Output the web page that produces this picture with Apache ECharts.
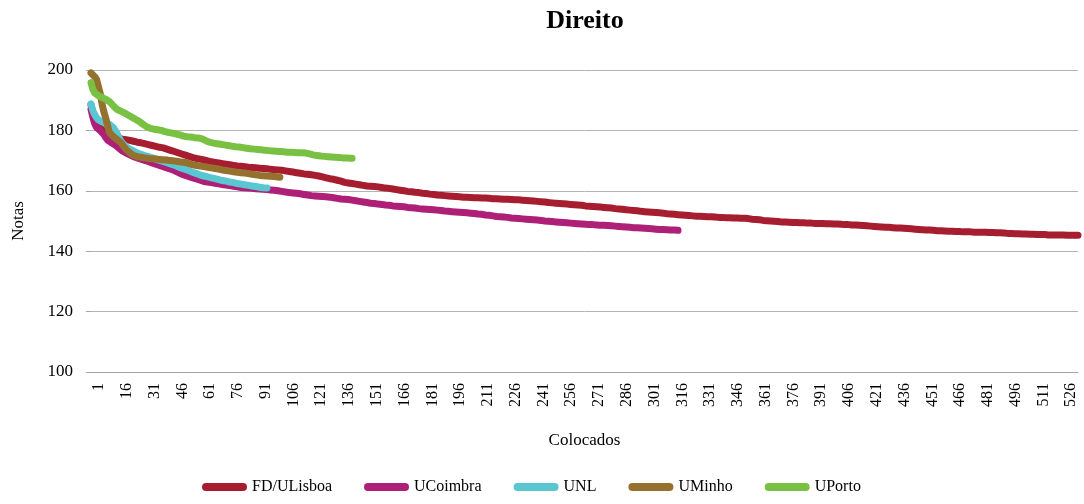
<!DOCTYPE html>
<html>
<head>
<meta charset="utf-8">
<title>Direito</title>
<script src="https://cdn.jsdelivr.net/npm/echarts@6/dist/echarts.min.js"></script>
<style>
    html, body { margin: 0; padding: 0; background: #fff; }
    #chart { width: 1084px; height: 504px; }
</style>
</head>
<body>
<div id="chart"></div>
<script>
const seriesNames = ['FD/ULisboa', 'UCoimbra', 'UNL', 'UMinho', 'UPorto'];
const colors = ['#a61d30', '#ae1f78', '#5ac6d1', '#957130', '#79c143'];

// notas dos colocados, por ordem
const fdULisboa = [
    188.5, 185.5, 183.6, 182.4, 181.6, 180.8, 180.2, 179.7, 179.3, 179.0,
    178.7, 178.4, 178.1, 177.8, 177.6, 177.4, 177.3, 177.1, 177.0, 176.9,
    176.8, 176.7, 176.6, 176.4, 176.3, 176.1, 176.0, 175.9, 175.7, 175.6,
    175.4, 175.3, 175.1, 175.0, 174.8, 174.7, 174.5, 174.4, 174.3, 174.2,
    174.0, 173.8, 173.6, 173.4, 173.2, 173.0, 172.8, 172.6, 172.4, 172.2,
    172.0, 171.8, 171.6, 171.4, 171.2, 171.0, 170.9, 170.7, 170.6, 170.5,
    170.3, 170.2, 170.0, 169.9, 169.8, 169.6, 169.5, 169.4, 169.3, 169.2,
    169.1, 169.0, 168.9, 168.8, 168.7, 168.6, 168.5, 168.4, 168.3, 168.2,
    168.1, 168.1, 168.0, 168.0, 167.9, 167.8, 167.8, 167.7, 167.7, 167.6,
    167.5, 167.5, 167.4, 167.4, 167.3, 167.3, 167.2, 167.1, 167.1, 167.0,
    167.0, 166.9, 166.9, 166.8, 166.7, 166.6, 166.5, 166.4, 166.3, 166.2,
    166.1, 166.0, 165.9, 165.8, 165.7, 165.6, 165.6, 165.5, 165.4, 165.3,
    165.2, 165.1, 165.0, 164.9, 164.7, 164.6, 164.4, 164.3, 164.1, 164.0,
    163.9, 163.8, 163.6, 163.5, 163.3, 163.2, 163.0, 162.8, 162.7, 162.6,
    162.5, 162.4, 162.3, 162.2, 162.1, 162.0, 161.9, 161.8, 161.7, 161.6,
    161.6, 161.5, 161.5, 161.4, 161.3, 161.3, 161.2, 161.1, 161.0, 160.9,
    160.9, 160.8, 160.7, 160.6, 160.5, 160.4, 160.3, 160.2, 160.1, 160.0,
    159.9, 159.8, 159.8, 159.7, 159.6, 159.5, 159.5, 159.4, 159.3, 159.2,
    159.2, 159.1, 159.0, 158.9, 158.9, 158.8, 158.7, 158.6, 158.6, 158.5,
    158.5, 158.4, 158.4, 158.3, 158.3, 158.2, 158.2, 158.1, 158.1, 158.0,
    158.0, 157.9, 157.9, 157.9, 157.8, 157.8, 157.8, 157.7, 157.7, 157.7,
    157.6, 157.6, 157.6, 157.6, 157.5, 157.5, 157.5, 157.4, 157.4, 157.4,
    157.3, 157.3, 157.3, 157.2, 157.2, 157.2, 157.1, 157.1, 157.1, 157.0,
    157.0, 157.0, 156.9, 156.9, 156.8, 156.8, 156.7, 156.7, 156.6, 156.6,
    156.5, 156.5, 156.4, 156.4, 156.3, 156.3, 156.2, 156.1, 156.1, 156.0,
    156.0, 155.9, 155.9, 155.8, 155.8, 155.7, 155.7, 155.6, 155.5, 155.5,
    155.4, 155.4, 155.3, 155.3, 155.2, 155.2, 155.1, 155.0, 155.0, 154.9,
    154.9, 154.8, 154.8, 154.7, 154.6, 154.6, 154.5, 154.5, 154.4, 154.4,
    154.3, 154.3, 154.2, 154.1, 154.1, 154.0, 153.9, 153.9, 153.8, 153.7,
    153.7, 153.6, 153.5, 153.5, 153.4, 153.4, 153.3, 153.2, 153.2, 153.1,
    153.1, 153.0, 153.0, 152.9, 152.8, 152.8, 152.7, 152.7, 152.6, 152.6,
    152.5, 152.4, 152.4, 152.3, 152.3, 152.2, 152.1, 152.1, 152.0, 152.0,
    151.9, 151.9, 151.8, 151.8, 151.7, 151.7, 151.7, 151.6, 151.6, 151.6,
    151.5, 151.5, 151.5, 151.4, 151.4, 151.4, 151.3, 151.3, 151.3, 151.2,
    151.2, 151.2, 151.2, 151.1, 151.1, 151.1, 151.1, 151.0, 151.0, 151.0,
    151.0, 150.9, 150.9, 150.9, 150.8, 150.8, 150.7, 150.6, 150.6, 150.5,
    150.4, 150.4, 150.3, 150.2, 150.2, 150.1, 150.0, 150.0, 149.9, 149.9,
    149.8, 149.8, 149.8, 149.7, 149.7, 149.7, 149.6, 149.6, 149.6, 149.5,
    149.5, 149.5, 149.5, 149.4, 149.4, 149.4, 149.4, 149.3, 149.3, 149.3,
    149.3, 149.2, 149.2, 149.2, 149.2, 149.2, 149.1, 149.1, 149.1, 149.1,
    149.1, 149.0, 149.0, 149.0, 148.9, 148.9, 148.9, 148.8, 148.8, 148.8,
    148.7, 148.7, 148.7, 148.7, 148.6, 148.6, 148.6, 148.5, 148.5, 148.4,
    148.4, 148.3, 148.3, 148.2, 148.2, 148.1, 148.1, 148.0, 148.0, 147.9,
    147.9, 147.9, 147.8, 147.8, 147.8, 147.7, 147.7, 147.7, 147.6, 147.6,
    147.5, 147.5, 147.4, 147.4, 147.3, 147.3, 147.2, 147.2, 147.1, 147.1,
    147.1, 147.0, 147.0, 147.0, 146.9, 146.9, 146.9, 146.8, 146.8, 146.8,
    146.7, 146.7, 146.7, 146.6, 146.6, 146.6, 146.6, 146.5, 146.5, 146.5,
    146.5, 146.4, 146.4, 146.4, 146.4, 146.4, 146.4, 146.3, 146.3, 146.3,
    146.3, 146.3, 146.3, 146.3, 146.3, 146.2, 146.2, 146.2, 146.2, 146.1,
    146.1, 146.1, 146.0, 146.0, 146.0, 145.9, 145.9, 145.9, 145.8, 145.8,
    145.8, 145.8, 145.7, 145.7, 145.7, 145.7, 145.6, 145.6, 145.6, 145.6,
    145.6, 145.5, 145.5, 145.5, 145.5, 145.5, 145.5, 145.4, 145.4, 145.4,
    145.4, 145.4, 145.4, 145.4, 145.4, 145.4, 145.3, 145.3, 145.3, 145.3,
    145.3, 145.3, 145.3, 145.3
];

const uCoimbra = [
    187.0, 184.4, 182.2, 181.0, 180.4, 179.9, 179.5, 178.6, 177.6, 176.8,
    176.3, 175.9, 175.5, 175.2, 174.7, 174.2, 173.7, 173.2, 172.8, 172.5,
    172.2, 171.9, 171.6, 171.3, 171.1, 170.9, 170.7, 170.5, 170.3, 170.1,
    169.9, 169.7, 169.5, 169.2, 169.0, 168.8, 168.6, 168.4, 168.2, 168.0,
    167.8, 167.6, 167.5, 167.2, 167.0, 166.7, 166.4, 166.1, 165.8, 165.5,
    165.3, 165.1, 164.9, 164.7, 164.5, 164.3, 164.1, 163.9, 163.7, 163.5,
    163.3, 163.1, 163.0, 162.9, 162.8, 162.7, 162.6, 162.5, 162.4, 162.3,
    162.2, 162.1, 162.0, 161.9, 161.8, 161.7, 161.6, 161.5, 161.4, 161.3,
    161.2, 161.1, 161.0, 161.0, 160.9, 160.9, 160.8, 160.8, 160.7, 160.7,
    160.6, 160.6, 160.5, 160.5, 160.4, 160.4, 160.3, 160.3, 160.3, 160.2,
    160.1, 160.0, 159.9, 159.8, 159.7, 159.6, 159.5, 159.4, 159.4, 159.3,
    159.3, 159.2, 159.1, 159.0, 158.9, 158.8, 158.7, 158.6, 158.5, 158.4,
    158.3, 158.3, 158.2, 158.2, 158.1, 158.1, 158.0, 158.0, 157.9, 157.9,
    157.8, 157.7, 157.6, 157.5, 157.4, 157.3, 157.3, 157.2, 157.2, 157.1,
    157.0, 156.9, 156.8, 156.7, 156.6, 156.5, 156.4, 156.3, 156.2, 156.1,
    156.0, 155.9, 155.9, 155.8, 155.7, 155.6, 155.5, 155.5, 155.4, 155.3,
    155.2, 155.2, 155.1, 155.0, 155.0, 154.9, 154.9, 154.8, 154.7, 154.7,
    154.6, 154.5, 154.5, 154.4, 154.3, 154.3, 154.2, 154.1, 154.1, 154.0,
    154.0, 153.9, 153.8, 153.8, 153.7, 153.7, 153.6, 153.6, 153.5, 153.5,
    153.4, 153.3, 153.3, 153.2, 153.1, 153.1, 153.0, 153.0, 152.9, 152.9,
    152.8, 152.8, 152.7, 152.7, 152.6, 152.6, 152.5, 152.5, 152.4, 152.3,
    152.2, 152.2, 152.1, 152.0, 151.9, 151.9, 151.8, 151.7, 151.6, 151.5,
    151.5, 151.4, 151.3, 151.3, 151.2, 151.2, 151.1, 151.0, 151.0, 150.9,
    150.9, 150.8, 150.8, 150.7, 150.7, 150.6, 150.6, 150.5, 150.5, 150.4,
    150.4, 150.3, 150.3, 150.2, 150.1, 150.0, 150.0, 149.9, 149.8, 149.8,
    149.7, 149.7, 149.6, 149.6, 149.5, 149.5, 149.4, 149.4, 149.3, 149.3,
    149.3, 149.2, 149.2, 149.1, 149.1, 149.0, 149.0, 148.9, 148.9, 148.8,
    148.8, 148.8, 148.7, 148.7, 148.7, 148.6, 148.6, 148.6, 148.5, 148.5,
    148.4, 148.4, 148.3, 148.3, 148.2, 148.2, 148.1, 148.1, 148.0, 148.0,
    147.9, 147.9, 147.9, 147.8, 147.8, 147.8, 147.7, 147.7, 147.7, 147.6,
    147.6, 147.5, 147.5, 147.4, 147.4, 147.3, 147.3, 147.2, 147.2, 147.2,
    147.1, 147.1, 147.1, 147.0, 147.0, 147.0, 146.9, 146.9
];

const unl = [
    188.8, 186.5, 185.2, 184.2, 183.5, 183.1, 182.8, 182.6, 182.4, 182.2,
    182.0, 181.8, 181.0, 180.0, 179.0, 177.8, 176.6, 175.7, 175.1, 174.6,
    174.2, 173.8, 173.5, 173.2, 172.8, 172.5, 172.3, 172.1, 171.9, 171.7,
    171.5, 171.3, 171.1, 170.9, 170.7, 170.5, 170.3, 170.1, 169.9, 169.7,
    169.5, 169.3, 169.1, 168.9, 168.7, 168.5, 168.3, 168.0, 167.8, 167.5,
    167.3, 167.1, 166.8, 166.6, 166.3, 166.1, 165.9, 165.7, 165.4, 165.2,
    165.0, 164.9, 164.7, 164.6, 164.4, 164.3, 164.1, 164.0, 163.8, 163.7,
    163.6, 163.4, 163.3, 163.2, 163.0, 162.9, 162.8, 162.7, 162.6, 162.4,
    162.3, 162.2, 162.1, 162.0, 161.9, 161.8, 161.7, 161.6, 161.5, 161.4,
    161.3, 161.2, 161.1, 161.0, 161.0, 160.9
];

const uMinho = [
    199.0, 198.6, 197.8, 196.9, 194.5, 192.2, 188.6, 186.0, 184.0, 181.5,
    179.2, 178.6, 178.0, 177.5, 177.0, 176.6, 176.0, 175.2, 174.4, 173.7,
    173.1, 172.5, 172.0, 171.7, 171.5, 171.3, 171.2, 171.1, 171.0, 170.9,
    170.8, 170.7, 170.7, 170.6, 170.5, 170.5, 170.4, 170.4, 170.3, 170.3,
    170.2, 170.2, 170.1, 170.0, 169.9, 169.9, 169.8, 169.7, 169.6, 169.5,
    169.5, 169.4, 169.2, 169.0, 168.8, 168.6, 168.5, 168.4, 168.3, 168.2,
    168.1, 168.0, 167.9, 167.8, 167.7, 167.6, 167.5, 167.4, 167.3, 167.2,
    167.0, 166.9, 166.8, 166.7, 166.6, 166.5, 166.4, 166.3, 166.2, 166.1,
    166.0, 166.0, 165.9, 165.9, 165.8, 165.7, 165.6, 165.5, 165.4, 165.3,
    165.2, 165.1, 165.0, 165.0, 164.9, 164.9, 164.8, 164.8, 164.7, 164.7,
    164.6, 164.6, 164.5
];

const uPorto = [
    195.8, 193.6, 192.4, 191.8, 191.5, 191.2, 190.9, 190.6, 190.3, 190.0,
    189.5, 189.0, 188.2, 187.6, 187.0, 186.7, 186.4, 186.1, 185.8, 185.5,
    185.1, 184.8, 184.4, 184.0, 183.7, 183.4, 183.0, 182.6, 182.1, 181.6,
    181.2, 180.9, 180.7, 180.5, 180.4, 180.3, 180.2, 180.1, 180.0, 179.8,
    179.6, 179.4, 179.3, 179.2, 179.1, 179.0, 178.8, 178.6, 178.5, 178.3,
    178.1, 178.0, 177.9, 177.8, 177.8, 177.7, 177.6, 177.6, 177.5, 177.4,
    177.2, 176.9, 176.6, 176.3, 176.1, 175.9, 175.8, 175.7, 175.6, 175.5,
    175.4, 175.3, 175.2, 175.1, 175.0, 174.9, 174.8, 174.7, 174.6, 174.5,
    174.5, 174.4, 174.3, 174.2, 174.1, 174.0, 173.9, 173.9, 173.8, 173.7,
    173.7, 173.6, 173.6, 173.5, 173.4, 173.4, 173.3, 173.3, 173.2, 173.2,
    173.1, 173.1, 173.0, 173.0, 172.9, 172.9, 172.8, 172.8, 172.8, 172.7,
    172.7, 172.7, 172.6, 172.6, 172.6, 172.5, 172.5, 172.4, 172.2, 172.0,
    171.9, 171.8, 171.7, 171.6, 171.5, 171.5, 171.4, 171.3, 171.3, 171.2,
    171.2, 171.1, 171.1, 171.0, 171.0, 171.0, 170.9, 170.9, 170.9, 170.8,
    170.8, 170.8
];

// eixo x: numero do colocado 1..N
const categories = [];
for (let i = 1; i <= fdULisboa.length; i ++) {
    categories.push(String(i));
}

const font = 'Liberation Serif';
const allData = [fdULisboa, uCoimbra, unl, uMinho, uPorto];

const chart = echarts.init(document.getElementById('chart'), null, { renderer: 'canvas' });

const option = {
    animation: false,
    backgroundColor: '#fff',
    color: colors,
    textStyle: { fontFamily: font, color: '#000' },
    title: {
        text: 'Direito',
        left: 580,
        textAlign: 'center',
        top: 3,
        textStyle: { fontFamily: font, fontSize: 26, fontWeight: 'bold', color: '#000' }
    },
    legend: {
        bottom: 4,
        left: 197,
        itemGap: 32,
        itemWidth: 45,
        itemHeight: 8,
        icon: 'path://M4,0 H41 A4,4 0 0 1 41,8 H4 A4,4 0 0 1 4,0 Z',
        textStyle: { fontFamily: font, fontSize: 16, color: '#000' },
        data: seriesNames
    },
    grid: {
        left: 91,
        right: 6,
        top: 70,
        bottom: 132,
        containLabel: false
    },
    xAxis: {
        type: 'category',
        data: categories,
        boundaryGap: false,
        name: 'Colocados',
        nameLocation: 'middle',
        nameGap: 60,
        nameTextStyle: { fontFamily: font, fontSize: 17, color: '#000' },
        axisLine: { lineStyle: { color: '#a6a6a6', width: 1 } },
        axisTick: { show: false },
        axisLabel: {
            interval: 14,
            rotate: 90,
            margin: 11,
            verticalAlign: 'top',
            fontFamily: font,
            fontSize: 16,
            color: '#000'
        },
        splitLine: { show: false }
    },
    yAxis: {
        type: 'value',
        min: 100,
        max: 200,
        interval: 20,
        name: 'Notas',
        nameLocation: 'middle',
        nameGap: 64,
        nameRotate: 90,
        nameTextStyle: { fontFamily: font, fontSize: 17, color: '#000' },
        axisLine: { show: false },
        axisTick: { show: true, length: 5, lineStyle: { color: '#a6a6a6' } },
        axisLabel: { margin: 18, fontFamily: font, fontSize: 17, color: '#000' },
        splitLine: { lineStyle: { color: '#b3b3b3', width: 1 } }
    },
    series: seriesNames.map((name, k) => ({
        name: name,
        type: 'line',
        data: allData[k],
        showSymbol: false,
        symbol: 'none',
        smooth: false,
        lineStyle: { width: 7, cap: 'round', join: 'round', color: colors[k] },
        itemStyle: { color: colors[k] }
    }))
};

chart.setOption(option);
</script>
</body>
</html>
